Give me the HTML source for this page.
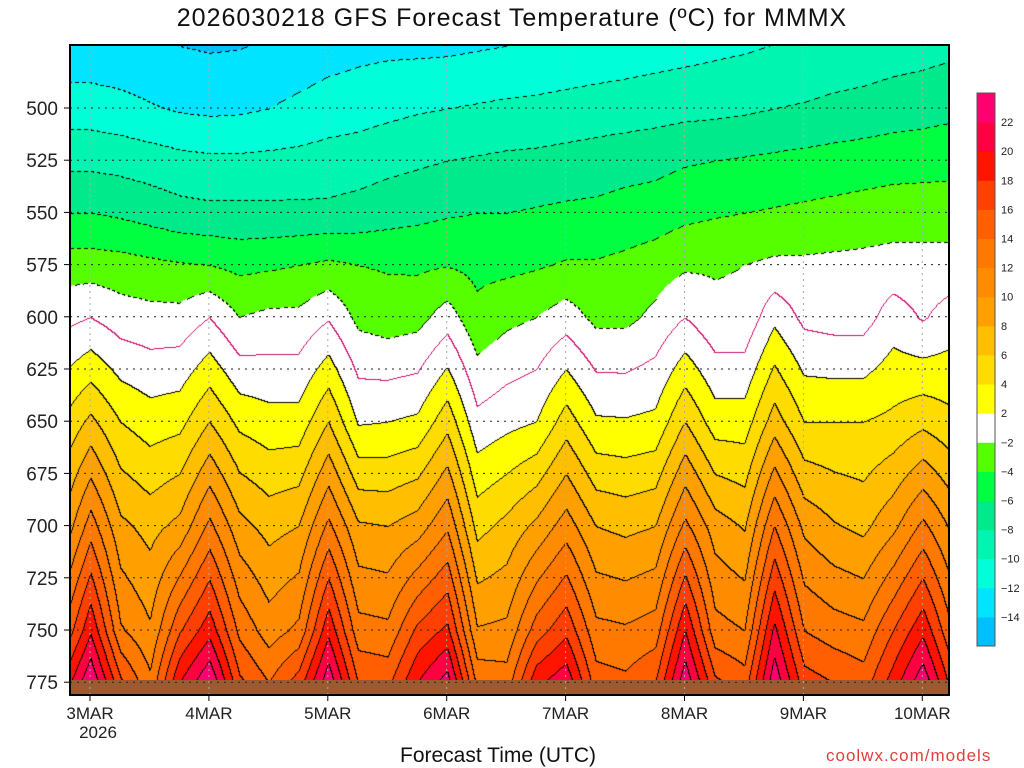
<!DOCTYPE html>
<html><head><meta charset="utf-8"><style>
html,body{margin:0;padding:0;background:#fff;width:1024px;height:768px;overflow:hidden;font-family:"Liberation Sans",sans-serif;}
#wrap{position:relative;width:1024px;height:768px;}
.t{position:absolute;white-space:nowrap;color:#111;}
</style></head><body>
<div id="wrap">
<div class="t" style="left:0;width:1024px;text-align:center;top:4px;font-size:25px;letter-spacing:1px;">2026030218 GFS Forecast Temperature (ºC) for MMMX</div>
<canvas id="cv" width="879" height="650" style="position:absolute;left:70px;top:45px;"></canvas>
<svg id="ov" width="1024" height="768" style="position:absolute;left:0;top:0;"></svg>
<div class="t" style="left:400px;top:744px;font-size:21px;">Forecast Time (UTC)</div>
<div class="t" style="left:826px;top:746px;font-size:17px;color:#e0403c;letter-spacing:1px;">coolwx.com/models</div>
</div>
<script>
// hours from 3MAR 00Z, every 6h starting -6
const hours = [-6,0,6,12,18,24,30,36,42,48,54,60,66,72,78,84,90,96,102,108,114,120,126,132,138,144,150,156,162,168,174];
const levels = [480,500,525,550,575,600,650,700,750,775];
const t480 = [-12.6,-12.6,-12.8,-13.1,-13.4,-13.6,-13.5,-13.2,-12.8,-12.3,-12,-11.8,-11.7,-11.6,-11.4,-11.2,-11,-10.8,-10.6,-10.4,-10.2,-10,-9.8,-9.6,-9.3,-9.1,-8.8,-8.6,-8.3,-8.1,-7.8];
const t500 = [-11,-11,-11.3,-11.8,-12.2,-12.4,-12.3,-12,-11.5,-11,-10.8,-10.5,-10.2,-10,-9.8,-9.6,-9.5,-9.3,-9.1,-9,-8.8,-8.6,-8.5,-8.3,-8,-7.8,-7.5,-7.3,-7,-6.8,-6.5];
const t525 = [-8.5,-8.5,-8.7,-9,-9.4,-9.6,-9.6,-9.5,-9.4,-9.2,-9,-8.6,-8.3,-8,-7.8,-7.6,-7.5,-7.3,-7.1,-6.8,-6.6,-6.2,-6,-5.8,-5.6,-5.4,-5.2,-5,-4.8,-4.7,-4.6];
const t550 = [-6,-6,-6.3,-6.8,-7.3,-7.5,-7.5,-7.5,-7.5,-7.5,-7.2,-6.8,-6.5,-6.2,-6,-6,-5.8,-5.6,-5.5,-5.2,-5,-4.5,-4.2,-4,-3.8,-3.6,-3.4,-3.2,-3,-3,-3];
const t575 = [-3,-3,-3.2,-3.5,-3.8,-4,-4.5,-4.3,-4,-3.6,-4,-4.2,-4.3,-4.1,-4.5,-4.5,-4.2,-3.8,-3.8,-3.5,-3,-2.3,-2.2,-2,-1.6,-1.6,-1.5,-1.4,-1.2,-1.2,-1.2];
const t600 = [-0.7,0,-1,-1.3,-1.3,0,-2,-1.5,-1.5,-0.2,-2.5,-3,-2.7,-1,-3.5,-2.5,-2,-1,-2.5,-2.5,-1.5,0,-1.5,-1.5,1.5,-0.5,-0.8,-0.8,1,-0.2,1];
const t650 = [4,6.5,4,3,3.4,6,3.5,2.8,2.8,6,1.8,2,2.4,5.3,0.6,1.4,2,5,2.3,2.2,2.5,6,3,3,7,4,4,4,4.5,5.5,4.5];
const t700 = [8,13,8.5,7.3,8.6,12.5,8.7,7.3,8,12.5,8.3,8,9,11.7,5.3,6.6,8.5,11,8,7.5,8,12.5,9,7.8,14,9.5,8.2,7.5,9.5,12.5,9.5];
const t750 = [13.5,19.7,12.3,10.3,15.8,19.3,13.5,11,12.5,19.5,12.8,12.5,16.5,18.5,10.2,10.5,15,17.5,12.6,12.3,13,20,12.8,12,20.5,14,13,12.5,16,19.5,14];
const t775 = [18,24,16.5,12.5,20,24,16.5,14,17,23.5,16,15.5,20,23,13.5,13,19.5,21.5,15,14.5,16,23.5,16.5,15,23.5,17,16,15,19,23.5,17];
const series = [t480,t500,t525,t550,t575,t600,t650,t700,t750,t775];
const yTicks = [500,525,550,575,600,625,650,675,700,725,750,775];
const dayLabels = ['3MAR','4MAR','5MAR','6MAR','7MAR','8MAR','9MAR','10MAR'];
const dayHours = [0,24,48,72,96,120,144,168];
const cbLabels = [22,20,18,16,14,12,10,8,6,4,2,-2,-4,-6,-8,-10,-12,-14];
const colors = ['#00bfff','#00e4ff','#00ffd8','#00f5b0','#00ea8c','#00ff40','#55ff00','#ffffff','#ffff00','#ffdc00','#ffbe00','#ffa000','#ff8c00','#ff7800','#ff5f00','#ff4000','#ff1400','#ff0040','#ff0070'];

const PX0=70,PY0=45,PW=879,PH=650;
function xOfH(h){return 90+h*118.9/24;}
function hOfX(x){return (x-90)*24/118.9;}
function yOfP(p){return 108+(p-500)*2.088;}
function pOfY(y){return 500+(y-108)/2.088;}
function bin(T){if(T<-14)return 0;if(T<-2)return 1+Math.floor((T+14)/2);if(T<2)return 7;return Math.min(18,8+Math.floor((T-2)/2));}
function hex(c){return [parseInt(c.substr(1,2),16),parseInt(c.substr(3,2),16),parseInt(c.substr(5,2),16)];}
const rgb=colors.map(hex);

const cv=document.getElementById('cv');const ctx=cv.getContext('2d');
const img=ctx.createImageData(PW,PH);const d=img.data;
const T=new Float32Array(PW*PH);
const step=hours[1]-hours[0];
for(let px=0;px<PW;px++){
  const h=hOfX(PX0+px);
  let f=(h-hours[0])/step; if(f<0)f=0; if(f>hours.length-1)f=hours.length-1;
  const i0=Math.min(hours.length-2,Math.floor(f)); const w=f-i0;
  const col=series.map(s=>s[i0]*(1-w)+s[i0+1]*w);
  for(let py=0;py<PH;py++){
    const p=pOfY(PY0+py);
    let k=0; while(k<levels.length-2 && p>levels[k+1])k++;
    const a=(p-levels[k])/(levels[k+1]-levels[k]);
    T[py*PW+px]=col[k]+(col[k+1]-col[k])*a;
  }
}
for(let py=0;py<PH;py++)for(let px=0;px<PW;px++){
  const idx=py*PW+px;const v=T[idx];let c=rgb[bin(v)];
  const cl=Math.floor(v/2);
  let lev=null;
  if(px>0){const c2=Math.floor(T[idx-1]/2);if(c2!==cl)lev=2*Math.max(c2,cl);}
  if(py>0){const c2=Math.floor(T[idx-PW]/2);if(c2!==cl)lev=2*Math.max(c2,cl);}
  if(lev!==null){
    if(lev===0)c=[208,16,112];
    else if(lev>0)c=[0,0,0];
    else if((px+py)%7<4)c=[0,0,0];
  }
  const o=idx*4;d[o]=c[0];d[o+1]=c[1];d[o+2]=c[2];d[o+3]=255;
}
ctx.putImageData(img,0,0);

const NS='http://www.w3.org/2000/svg';
const ov=document.getElementById('ov');
function el(tag,attrs){const e=document.createElementNS(NS,tag);for(const k in attrs)e.setAttribute(k,attrs[k]);ov.appendChild(e);return e;}
const g=el('rect',{x:PX0,y:680,width:PW,height:14,fill:'#9c5a32'});


yTicks.forEach(p=>{
  const y=yOfP(p);
  const ln=el('line',{x1:PX0,x2:PX0+PW,y1:y,y2:y,stroke:'#222','stroke-width':1,'stroke-dasharray':'2,5'});
  
  
  const tk=el('line',{x1:PX0-6,x2:PX0,y1:y,y2:y,stroke:'#000','stroke-width':1});
  
  
  const tx=el('text',{x:PX0-12,y:y+7,'text-anchor':'end','font-size':19,fill:'#222','font-family':'Liberation Sans, sans-serif'});
  tx.textContent=p;
  
  
});
dayHours.forEach((h,i)=>{
  const x=xOfH(h);
  const ln=el('line',{x1:x,x2:x,y1:PY0,y2:PY0+PH,stroke:'#aaa','stroke-width':1,'stroke-dasharray':'2,4'});
  
  
  const tk=el('line',{x1:x,x2:x,y1:PY0+PH,y2:PY0+PH+6,stroke:'#000'});
  
  
  const tx=el('text',{x:x,y:719,'text-anchor':'middle','font-size':17,fill:'#222','font-family':'Liberation Sans, sans-serif'});
  tx.textContent=dayLabels[i];
  
  
});
const yr=el('text',{x:xOfH(0)+8,y:738,'text-anchor':'middle','font-size':17,fill:'#222','font-family':'Liberation Sans, sans-serif'});
yr.textContent='2026';


const fr=el('rect',{x:PX0,y:PY0,width:PW,height:PH,fill:'none',stroke:'#000','stroke-width':2});


const CBX=977,CBY=93,CBH=553,CBW=18;const bh=CBH/19;
for(let k=0;k<19;k++){
  const r=el('rect',{x:CBX,y:CBY+(18-k)*bh,width:CBW,height:bh+0.5,fill:colors[k]});
  
  
}
const cbf=el('rect',{x:CBX,y:CBY,width:CBW,height:CBH,fill:'none',stroke:'#555','stroke-width':1});


cbLabels.forEach((v,i)=>{
  const y=CBY+(i+1)*bh;
  const tx=el('text',{x:CBX+24,y:y+4,'font-size':11,fill:'#222','font-family':'Liberation Sans, sans-serif'});
  tx.textContent=(v<0?'\u2212'+(-v):v);
  
  
});
</script>
</body></html>
